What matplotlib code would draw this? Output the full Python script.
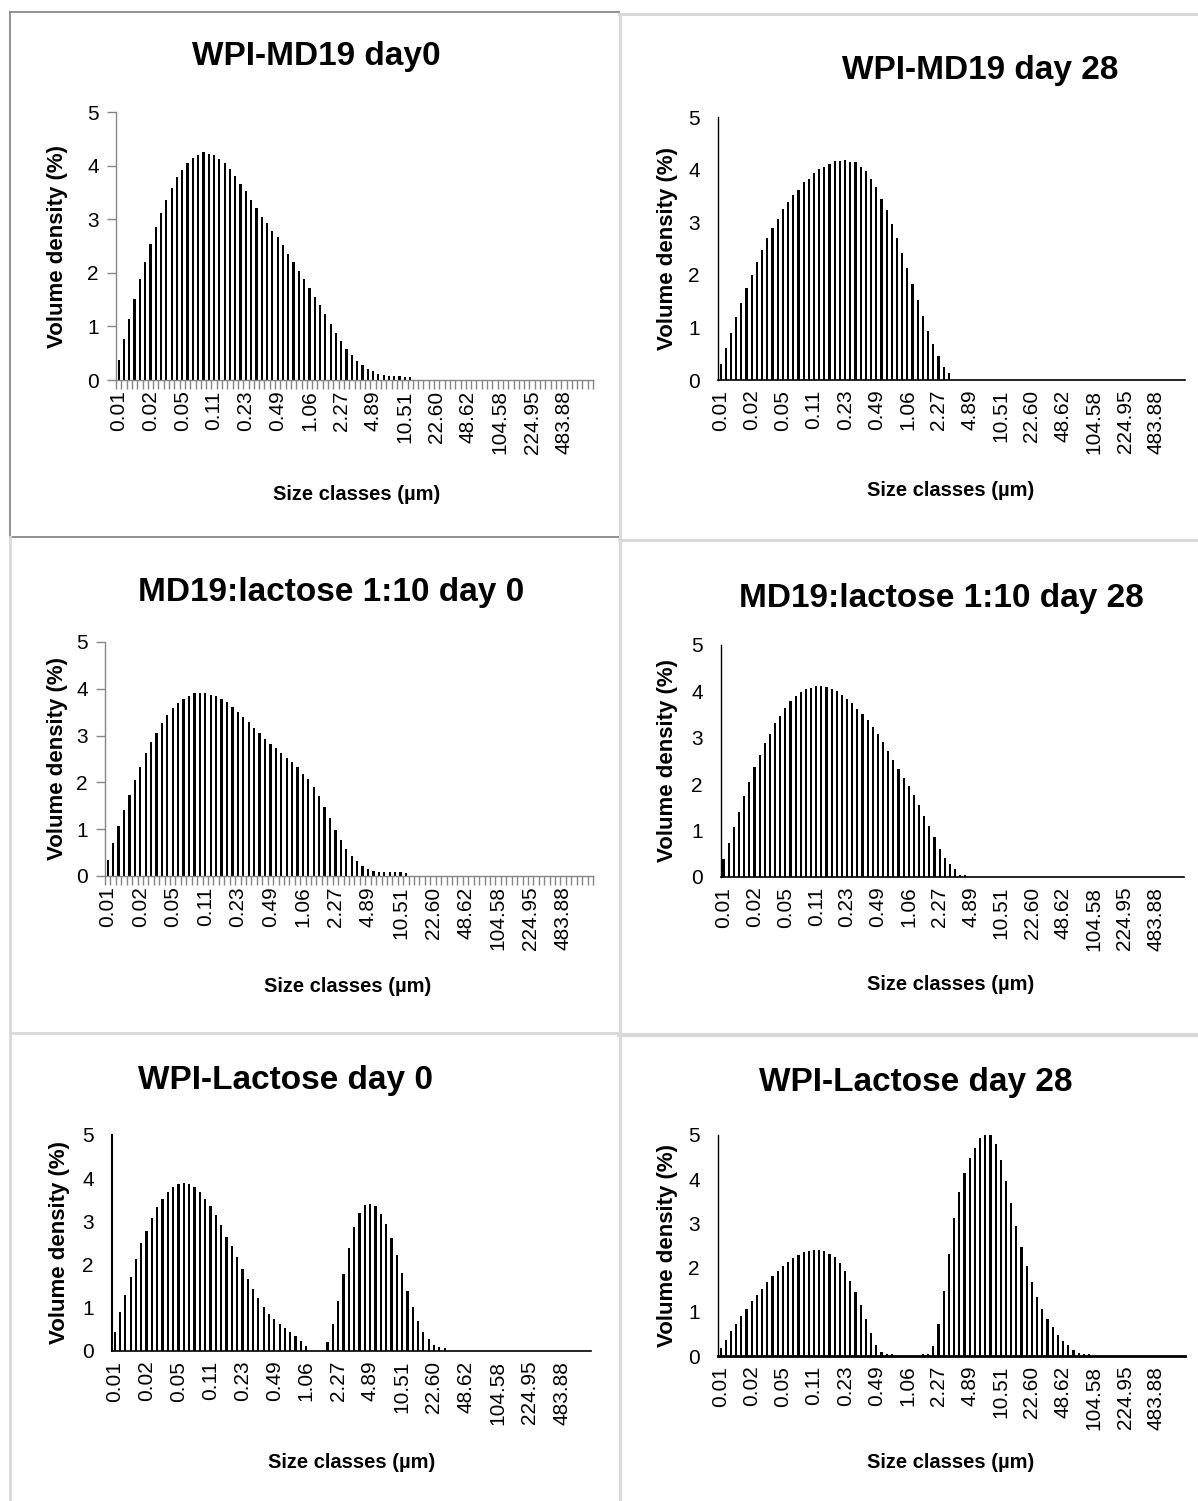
import matplotlib
matplotlib.use("Agg")
import matplotlib.pyplot as plt
from matplotlib.lines import Line2D
from matplotlib.ticker import FixedLocator

plt.rcParams['font.family'] = ['Liberation Sans', 'DejaVu Sans']

W, H = 1198, 1501
N_BINS = 90

size_labels = ["0.01", "0.02", "0.05", "0.11", "0.23", "0.49", "1.06", "2.27",
               "4.89", "10.51", "22.60", "48.62", "104.58", "224.95", "483.88"]

# volume density (%) per size class, starting from the first class
md19_day0 = [0.375, 0.77, 1.14, 1.51, 1.89, 2.21, 2.54, 2.85, 3.12, 3.36, 3.59, 3.78,
             3.91, 4.04, 4.14, 4.19, 4.25, 4.22, 4.19, 4.12, 4.05, 3.93, 3.80, 3.65,
             3.52, 3.35, 3.21, 3.05, 2.92, 2.78, 2.66, 2.51, 2.36, 2.21, 2.04, 1.89,
             1.72, 1.55, 1.40, 1.24, 1.05, 0.875, 0.73, 0.58, 0.47, 0.35, 0.275, 0.21,
             0.16, 0.11, 0.09, 0.08, 0.07, 0.07, 0.06, 0.055]
md19_day28 = [0.30, 0.61, 0.89, 1.20, 1.47, 1.75, 2.00, 2.24, 2.47, 2.70, 2.89, 3.06,
              3.25, 3.38, 3.51, 3.62, 3.76, 3.83, 3.93, 4.01, 4.05, 4.10, 4.16, 4.16,
              4.18, 4.15, 4.14, 4.04, 3.97, 3.83, 3.66, 3.45, 3.23, 2.97, 2.70, 2.41,
              2.13, 1.83, 1.52, 1.22, 0.93, 0.68, 0.46, 0.25, 0.14]
lact_day0 = [0.34, 0.71, 1.07, 1.41, 1.74, 2.05, 2.33, 2.62, 2.86, 3.05, 3.26, 3.44,
             3.58, 3.69, 3.78, 3.84, 3.90, 3.91, 3.91, 3.86, 3.84, 3.78, 3.71, 3.61,
             3.50, 3.40, 3.29, 3.16, 3.05, 2.93, 2.82, 2.73, 2.62, 2.52, 2.44, 2.33,
             2.19, 2.07, 1.91, 1.71, 1.47, 1.24, 0.98, 0.77, 0.58, 0.43, 0.31, 0.21,
             0.14, 0.11, 0.09, 0.09, 0.09, 0.09, 0.09, 0.065]
lact_day28 = [0.38, 0.73, 1.07, 1.40, 1.75, 2.04, 2.36, 2.63, 2.88, 3.09, 3.32, 3.48,
              3.65, 3.80, 3.91, 3.99, 4.05, 4.07, 4.11, 4.12, 4.09, 4.05, 4.00, 3.92,
              3.83, 3.76, 3.63, 3.51, 3.38, 3.24, 3.08, 2.91, 2.72, 2.53, 2.33, 2.13,
              1.96, 1.77, 1.55, 1.32, 1.09, 0.86, 0.61, 0.42, 0.27, 0.17, 0.036, 0.036]
wpil_day0 = [0.44, 0.90, 1.30, 1.72, 2.14, 2.51, 2.78, 3.08, 3.33, 3.52, 3.69, 3.80,
             3.86, 3.89, 3.86, 3.80, 3.69, 3.52, 3.35, 3.14, 2.92, 2.65, 2.43, 2.17,
             1.89, 1.66, 1.43, 1.22, 1.01, 0.86, 0.73, 0.62, 0.53, 0.43, 0.34, 0.22,
             0.11, 0, 0, 0, 0.21, 0.62, 1.15, 1.78, 2.39, 2.87, 3.19, 3.38, 3.40, 3.35,
             3.17, 2.94, 2.62, 2.22, 1.80, 1.38, 1.01, 0.70, 0.44, 0.27, 0.15, 0.09, 0.06]
wpil_day28 = [0.17, 0.36, 0.56, 0.72, 0.90, 1.06, 1.24, 1.37, 1.51, 1.67, 1.81, 1.92,
              2.03, 2.12, 2.21, 2.28, 2.35, 2.37, 2.39, 2.39, 2.37, 2.30, 2.24, 2.10,
              1.92, 1.69, 1.44, 1.15, 0.83, 0.51, 0.26, 0.08, 0.04, 0.04,
              0, 0, 0, 0, 0,
              0.04, 0.04, 0.22, 0.72, 1.47, 2.30, 3.12, 3.72, 4.15, 4.48, 4.71, 4.93,
              5.0, 5.0, 4.80, 4.43, 3.96, 3.46, 2.94, 2.46, 2.03, 1.67, 1.33, 1.06,
              0.83, 0.65, 0.47, 0.33, 0.24, 0.13, 0.06, 0.04, 0.04]

titles = ["WPI-MD19 day0", "WPI-MD19 day 28", "MD19:lactose 1:10 day 0",
          "MD19:lactose 1:10 day 28", "WPI-Lactose day 0", "WPI-Lactose day 28"]
series = [md19_day0, md19_day28, lact_day0, lact_day28, wpil_day0, wpil_day28]

# plot area in pixels: left, top, right, bottom
boxes = [(116, 112, 593, 380), (718, 117, 1185, 380),
         (105, 642, 593, 876), (721, 645, 1184, 877),
         (112, 1135, 591, 1351), (718, 1135, 1185, 1356)]
title_xy = [(316, 57), (980, 70), (331, 592), (941, 598), (285, 1081), (916, 1082)]
xlab_xy = [(357, 494), (951, 491), (348, 987), (951, 985), (352, 1462), (951, 1462)]
ylab_x = [58, 668, 57, 668, 60, 668]
excel_grey = [True, False, True, False, False, False]

fig = plt.figure(figsize=(W / 100, H / 100), dpi=100)


def fx(x):
    return x / W


def fy(y):
    return 1 - y / H


# panel frame edges (pixels), colour, width
frame_lines = [
    ((10, 619), (12, 12), '#8a8a8a', 1.3),
    ((10, 10), (12, 537), '#8a8a8a', 1.3),
    ((10, 619), (537, 537), '#8a8a8a', 1.3),
    ((619, 1198), (14, 14), '#d9d9d9', 2.2),
    ((620, 620), (14, 1501), '#d9d9d9', 2.2),
    ((619, 1198), (540, 540), '#d9d9d9', 2.2),
    ((10, 10), (537, 1501), '#d9d9d9', 2.0),
    ((10, 619), (1033, 1033), '#d9d9d9', 2.0),
    ((619, 1198), (1035, 1035), '#d9d9d9', 3.0),
]
for xs, ys, col, lw in frame_lines:
    fig.add_artist(Line2D([fx(v) for v in xs], [fy(v) for v in ys],
                          color=col, lw=lw))

for i in range(6):
    l, t, r, b = boxes[i]
    ax = fig.add_axes([fx(l), fy(b), fx(r) - fx(l), (b - t) / H])
    vals = series[i] + [0] * (N_BINS - len(series[i]))
    ax.bar(range(N_BINS), vals, width=0.42, color='black')
    ax.set_xlim(-0.5, N_BINS - 0.5)
    ax.set_ylim(0, 5)
    ax.set_yticks(range(6))
    ax.set_xticks(range(0, 6 * len(size_labels), 6))
    ax.set_xticklabels(size_labels, rotation=90, fontsize=15)
    ax.tick_params(axis='y', labelsize=15)
    ax.spines['top'].set_visible(False)
    ax.spines['right'].set_visible(False)
    if excel_grey[i]:
        for s in ['left', 'bottom']:
            ax.spines[s].set_color('#868686')
            ax.spines[s].set_linewidth(1.0)
        ax.xaxis.set_minor_locator(FixedLocator([k - 0.5 for k in range(N_BINS + 1)]))
        ax.tick_params(axis='x', which='minor', length=6.5, color='#868686', width=1)
        ax.tick_params(axis='x', which='major', length=0, pad=7.5)
        ax.tick_params(axis='y', length=6.5, color='#868686', width=1, pad=6)
    else:
        for s in ['left', 'bottom']:
            ax.spines[s].set_color('black')
        ax.spines['left'].set_linewidth(1.5 if i == 4 else 1.0)
        ax.spines['bottom'].set_linewidth(2.0 if i == 5 else 1.2)
        ax.tick_params(axis='x', length=0, pad=7)
        ax.tick_params(axis='y', length=0, pad=13)

    fig.text(fx(title_xy[i][0]), fy(title_xy[i][1]), titles[i], fontsize=24,
             fontweight='bold', ha='center', va='center')
    fig.text(fx(xlab_xy[i][0]), fy(xlab_xy[i][1]), "Size classes (\u00b5m)",
             fontsize=14.5, fontweight='bold', ha='center', va='center')
    fig.text(fx(ylab_x[i]), fy((t + b) / 2), "Volume density (%)", fontsize=16,
             fontweight='bold', ha='center', va='center', rotation=90)

fig.savefig("out.png", dpi=100, facecolor='white')
